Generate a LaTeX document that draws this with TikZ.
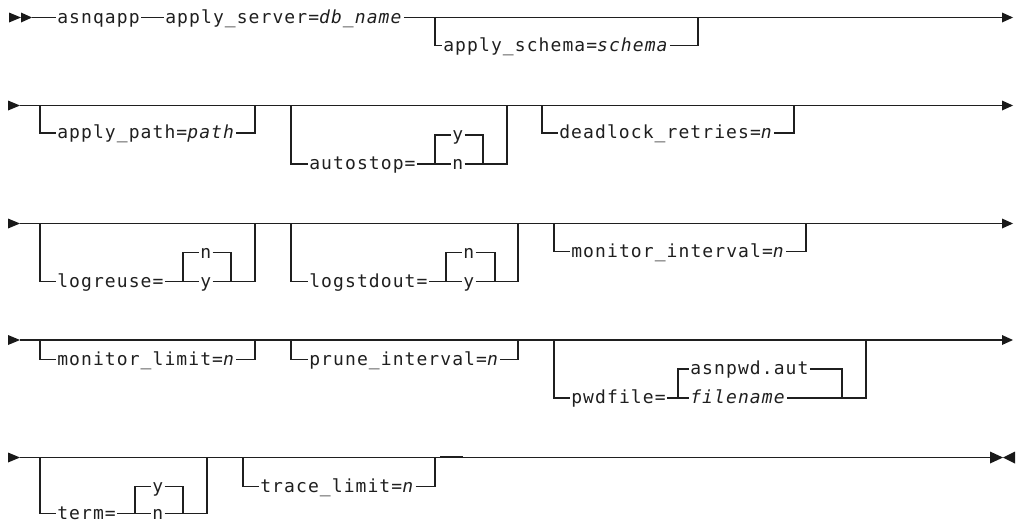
\documentclass[tikz,border=0pt]{standalone}
\usepackage{fontspec}
\newfontfamily\railfont[LetterSpace=6]{DejaVu Sans Mono}
\begin{document}
\begin{tikzpicture}[x=0.75pt,y=-0.75pt,
  rail/.style={draw=black!88, line width=0.9pt},
  lbl/.style={inner xsep=0.8pt, inner ysep=0pt, anchor=west,
    text height=8.25pt, text depth=0pt, text=black!88,
    font=\railfont\fontsize{13.5}{13.5}\selectfont},
  tip/.style={fill=black!90, draw=none}]
\useasboundingbox (0,0) rectangle (1016,522);

% ---------- row 1 ----------
\fill[tip] (9,12.5) -- (21,17.5) -- (9,22.5) -- cycle;
\fill[tip] (21,12.5) -- (32,17.5) -- (21,22.5) -- cycle;
\coordinate (r1s) at (32,17.5);
\coordinate (r1e) at (1002,17.5);
\node[lbl] (asn) at (56,17.5) {asnqapp};
\node[lbl] (srv) at (164,17.5) {apply\_server=\textit{db\_name}};
\draw[rail] (r1s) -- (asn);
\draw[rail] (asn) -- (srv);
\draw[rail] (srv) -- (r1e);
\fill[tip] (1002,12.5) -- (1013,17.5) -- (1002,22.5) -- cycle;
% optional apply_schema
\coordinate (sa) at (435,17.5);
\coordinate (sb) at (698,17.5);
\node[lbl] (sch) at (442,45.5) {apply\_schema=\textit{schema}};
\draw[rail] (sa) |- (sch);
\draw[rail] (sch) -| (sb);

% ---------- row 2 ----------
\fill[tip] (8,100.5) -- (20,105.5) -- (8,110.5) -- cycle;
\coordinate (r2s) at (20,105.5);
\coordinate (r2e) at (1002,105.5);
\draw[rail] (r2s) -- (r2e);
\fill[tip] (1002,100.5) -- (1013,105.5) -- (1002,110.5) -- cycle;
% apply_path
\coordinate (pa) at (40,105.5);
\coordinate (pb) at (255,105.5);
\node[lbl] (pth) at (56,133) {apply\_path=\textit{path}};
\draw[rail] (pa) |- (pth);
\draw[rail] (pth) -| (pb);
% autostop
\coordinate (asa) at (291,105.5);
\coordinate (asd) at (507,105.5);
\coordinate (asj) at (435,164);
\coordinate (ask) at (483,164);
\node[lbl] (ast) at (308,164) {autostop=};
\node[lbl] (asy) at (451,135) {y};
\node[lbl] (asno) at (451,164) {n};
\draw[rail] (asa) |- (ast);
\draw[rail] (ast) -- (asno);
\draw[rail] (asj) |- (asy);
\draw[rail] (asy) -| (ask);
\draw[rail] (asno) -| (asd);
% deadlock_retries
\coordinate (dla) at (542,105.5);
\coordinate (dlb) at (794,105.5);
\node[lbl] (dlr) at (558,133) {deadlock\_retries=\textit{n}};
\draw[rail] (dla) |- (dlr);
\draw[rail] (dlr) -| (dlb);

% ---------- row 3 ----------
\fill[tip] (8,218.5) -- (20,223.5) -- (8,228.5) -- cycle;
\coordinate (r3s) at (20,223.5);
\coordinate (r3e) at (1002,223.5);
\draw[rail] (r3s) -- (r3e);
\fill[tip] (1002,218.5) -- (1013,223.5) -- (1002,228.5) -- cycle;
% logreuse
\coordinate (lra) at (40,223.5);
\coordinate (lrd) at (255,223.5);
\coordinate (lrj) at (183,281.5);
\coordinate (lrk) at (231,281.5);
\node[lbl] (lru) at (56,281.5) {logreuse=};
\node[lbl] (lrn) at (199,252.5) {n};
\node[lbl] (lry) at (199,281.5) {y};
\draw[rail] (lra) |- (lru);
\draw[rail] (lru) -- (lry);
\draw[rail] (lrj) |- (lrn);
\draw[rail] (lrn) -| (lrk);
\draw[rail] (lry) -| (lrd);
% logstdout
\coordinate (lsa) at (291,223.5);
\coordinate (lsd) at (518,223.5);
\coordinate (lsj) at (446,281.5);
\coordinate (lsk) at (495,281.5);
\node[lbl] (lso) at (308,281.5) {logstdout=};
\node[lbl] (lsn) at (462,252.5) {n};
\node[lbl] (lsy) at (462,281.5) {y};
\draw[rail] (lsa) |- (lso);
\draw[rail] (lso) -- (lsy);
\draw[rail] (lsj) |- (lsn);
\draw[rail] (lsn) -| (lsk);
\draw[rail] (lsy) -| (lsd);
% monitor_interval
\coordinate (mia) at (554,223.5);
\coordinate (mib) at (806,223.5);
\node[lbl] (mit) at (570,251.5) {monitor\_interval=\textit{n}};
\draw[rail] (mia) |- (mit);
\draw[rail] (mit) -| (mib);

% ---------- row 4 ----------
\fill[tip] (8,335) -- (20,340) -- (8,345) -- cycle;
\coordinate (r4s) at (20,340);
\coordinate (r4e) at (1002,340);
\draw[rail] (r4s) -- (r4e);
\fill[tip] (1002,335) -- (1013,340) -- (1002,345) -- cycle;
% monitor_limit
\coordinate (mla) at (40,340);
\coordinate (mlb) at (255,340);
\node[lbl] (mlt) at (56,359.5) {monitor\_limit=\textit{n}};
\draw[rail] (mla) |- (mlt);
\draw[rail] (mlt) -| (mlb);
% prune_interval
\coordinate (pia) at (291,340);
\coordinate (pib) at (518,340);
\node[lbl] (pit) at (308,359.5) {prune\_interval=\textit{n}};
\draw[rail] (pia) |- (pit);
\draw[rail] (pit) -| (pib);
% pwdfile
\coordinate (pwa) at (554,340);
\coordinate (pwd) at (866,340);
\coordinate (pwj) at (678,398);
\coordinate (pwk) at (842,398);
\node[lbl] (pwt) at (570,398) {pwdfile=};
\node[lbl] (pwu) at (689,369) {asnpwd.aut};
\node[lbl] (pwf) at (689,398) {\textit{filename}};
\draw[rail] (pwa) |- (pwt);
\draw[rail] (pwt) -- (pwf);
\draw[rail] (pwj) |- (pwu);
\draw[rail] (pwu) -| (pwk);
\draw[rail] (pwf) -| (pwd);

% ---------- row 5 ----------
\fill[tip] (8,452.5) -- (20,457.5) -- (8,462.5) -- cycle;
\coordinate (r5s) at (20,457.5);
\coordinate (r5e) at (990,457.5);
\draw[rail] (r5s) -- (r5e);
\fill[tip] (990,451.5) -- (1003,457.5) -- (990,463.5) -- cycle;
\fill[tip] (1015,451.5) -- (1003,457.5) -- (1015,463.5) -- cycle;
% term
\coordinate (tma) at (40,457.5);
\coordinate (tmd) at (207,457.5);
\coordinate (tmj) at (135,513.5);
\coordinate (tmk) at (183,513.5);
\node[lbl] (tmt) at (56,513.5) {term=};
\node[lbl] (tmy) at (151,486.5) {y};
\node[lbl] (tmn) at (151,513.5) {n};
\draw[rail] (tma) |- (tmt);
\draw[rail] (tmt) -- (tmn);
\draw[rail] (tmj) |- (tmy);
\draw[rail] (tmy) -| (tmk);
\draw[rail] (tmn) -| (tmd);
% trace_limit
\coordinate (tla) at (243,457.5);
\coordinate (tlb) at (435,457.5);
\node[lbl] (tlt) at (259,486.5) {trace\_limit=\textit{n}};
\draw[rail] (tla) |- (tlt);
\draw[rail] (tlt) -| (tlb);
\coordinate (tsa) at (440,456.3);
\coordinate (tsb) at (463,456.3);
\draw[rail, line width=0.6pt] (tsa) -- (tsb);
\end{tikzpicture}
\end{document}
